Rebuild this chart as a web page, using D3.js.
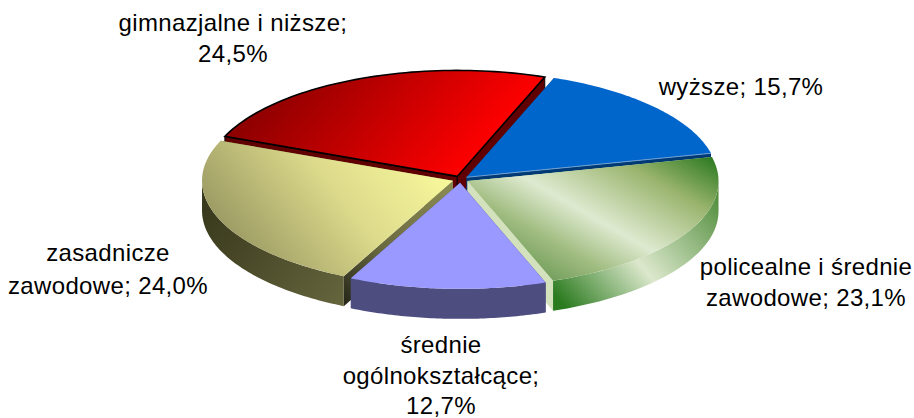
<!DOCTYPE html>
<html><head><meta charset="utf-8">
<script src="https://cdn.jsdelivr.net/npm/d3@7/dist/d3.min.js"></script>
<style>html,body{margin:0;padding:0;background:#fff}svg{display:block}text{font-family:"Liberation Sans",Arial,sans-serif;font-size:24px;letter-spacing:.35px;fill:#000}</style>
</head><body><div id="c"></div>
<script>
const categories = ["wyższe","policealne i średnie zawodowe","średnie ogólnokształcące","zasadnicze zawodowe","gimnazjalne i niższe"];
const values = [15.7,23.1,12.7,24.0,24.5];
const labelLines = [["wyższe; {v}"],["policealne i średnie","zawodowe; {v}"],["średnie","ogólnokształcące;","{v}"],["zasadnicze","zawodowe; {v}"],["gimnazjalne i niższe;","{v}"]];
const labelAnchors = [[741,95],[806,275],[441,353],[108,261],[233,31]];
const labelGap = [0,31,30.5,33,31];

const W=914,H=418,cx=460.5,cy=179.5,rx=251,ry=106,depth=30,explode=8;
const svg=d3.select("#c").append("svg").attr("width",W).attr("height",H);
const defs=svg.append("defs");
function grad(id,x1,y1,x2,y2,stops){
  const g=defs.append("linearGradient").attr("id",id).attr("gradientUnits","userSpaceOnUse")
    .attr("x1",x1).attr("y1",y1).attr("x2",x2).attr("y2",y2);
  stops.forEach(s=>g.append("stop").attr("offset",s[0]).attr("stop-color",s[1]));
  return `url(#${id})`;
}
const styles=[
 {top:"#0066cc",outer:"#004080",wall:"#003a75",edge:"#6f9fd0"},
 {top:grad("gt",710,157,615,322,[[0,"#2f7b22"],[.25,"#9ab46e"],[.58,"#deead0"],[.8,"#a0bc80"],[1,"#6f9c58"]]),
  outer:grad("gs",556,330,716,190,[[0,"#2a7a1e"],[.1,"#2a7a1e"],[.5,"#dce8cc"],[1,"#4f8c3a"]]),wall:"#d3e2bd"},
 {top:"#9999ff",outer:"#4d4d80",wall:"#4d4d80"},
 {top:grad("yt",440,165,255,310,[[0,"#f8f89c"],[.4,"#dedc8c"],[1,"#8e8d5b"]]),
  outer:grad("ys",205,200,350,310,[[0,"#38381c"],[1,"#67673f"]]),
  wall:grad("yw",455,180,345,305,[[0,"#8c8c55"],[.6,"#6a6a40"],[1,"#26261a"]])},
 {top:grad("rt",300,60,450,190,[[0,"#8f0000"],[1,"#ff0000"]]),outer:"#600000",wall:"#600000",stroke:"#000"}
];
const a0=20.4*Math.PI/180;
const pie=d3.pie().sort(null).startAngle(a0).endAngle(a0+2*Math.PI);
const arcs=pie(values).map((d,i)=>({...d,i}));
const pt=(ox,oy,a,r=1,dy=0)=>[ox+rx*r*Math.sin(a),oy-ry*r*Math.cos(a)+dy];
const line=d3.line();
const angles=(a,b)=>d3.range(0,61).map(k=>a+(b-a)*k/60);
const midCos=d=>Math.cos((d.startAngle+d.endAngle)/2);

const order=arcs.slice().sort((p,q)=>d3.descending(midCos(p),midCos(q)));
order.forEach(d=>{
  const st=styles[d.i],m=(d.startAngle+d.endAngle)/2;
  const [ox,oy]=pt(cx,cy,m,explode/rx);
  const ax=ox,ay=oy;
  const g=svg.append("g").attr("class","slice");
  const sw=st.stroke?1.6:0, sc=st.stroke||"none";
  [d.startAngle,d.endAngle].forEach(a=>{
    const c=pt(ox,oy,a);
    g.append("path").attr("d",line([[ax,ay],c,[c[0],c[1]+depth],[ax,ay+depth]])+"Z")
      .attr("fill",st.wall).attr("stroke",sc).attr("stroke-width",sw*.6);
  });
  let s=d.startAngle,e=d.endAngle;
  const fronts=[[Math.PI/2,3*Math.PI/2],[Math.PI/2+2*Math.PI,3*Math.PI/2+2*Math.PI]];
  fronts.forEach(f=>{
    const a=Math.max(s,f[0]),b=Math.min(e,f[1]);
    if(b>a){
      const as=angles(a,b);
      g.append("path").attr("d",line(as.map(t=>pt(ox,oy,t)).concat(as.slice().reverse().map(t=>pt(ox,oy,t,1,depth))))+"Z")
        .attr("fill",st.outer);
    }
  });
  const rim=angles(s,e).map(t=>pt(ox,oy,t));
  g.append("path").attr("d",line([[ax,ay],...rim])+"Z").attr("fill",st.top)
    .attr("stroke",sc).attr("stroke-width",sw).attr("stroke-linejoin","miter");
  if(st.edge){
    const c=pt(ox,oy,e);
    g.append("path").attr("d",line([[ax,ay],c])).attr("stroke",st.edge).attr("stroke-width",1).attr("fill","none");
  }
});

const fmt=v=>v.toFixed(1).replace(".",",")+"%";
arcs.forEach(d=>{
  const t=svg.append("text").attr("text-anchor","middle");
  labelLines[d.i].forEach((l,k)=>{
    t.append("tspan").attr("x",labelAnchors[d.i][0]).attr("y",labelAnchors[d.i][1]+k*labelGap[d.i])
      .text(l.replace("{v}",fmt(values[d.i])));
  });
});
</script></body></html>
